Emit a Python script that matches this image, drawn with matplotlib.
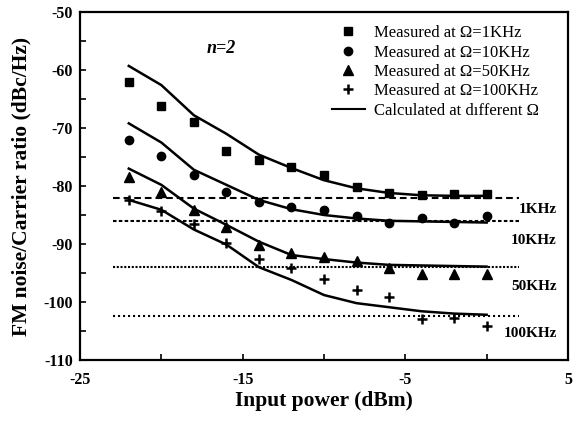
import numpy as np
import matplotlib.pyplot as plt

plt.rcParams['font.family'] = ['Liberation Serif', 'DejaVu Serif']
plt.rcParams['axes.unicode_minus'] = False

# input power (dBm)
power = [-22, -20, -18, -16, -14, -12, -10, -8, -6, -4, -2, 0]

# measured FM noise/carrier ratio (dBc/Hz)
meas_1k = [-62.0, -66.2, -69.0, -74.0, -75.6, -76.7, -78.1, -80.1, -81.2, -81.6, -81.3, -81.4]
meas_10k = [-72.1, -74.8, -78.1, -81.1, -82.8, -83.6, -84.1, -85.1, -86.3, -85.5, -86.3, -85.2]
meas_50k = [-78.5, -81.1, -84.1, -87.1, -90.1, -91.6, -92.2, -92.9, -94.2, -95.1, -95.1, -95.1]
meas_100k = [-82.4, -84.3, -86.6, -89.9, -92.6, -94.1, -96.0, -98.0, -99.1, -102.9, -102.8, -104.1]

# calculated curves
calc_1k = [-59.3, -62.6, -67.8, -71.0, -74.6, -76.9, -79.0, -80.4, -81.2, -81.6, -81.7, -81.7]
calc_10k = [-69.2, -72.5, -77.2, -79.8, -82.4, -84.0, -85.0, -85.6, -86.0, -86.1, -86.2, -86.3]
calc_50k = [-77.0, -79.8, -83.9, -86.7, -89.6, -91.9, -92.6, -93.2, -93.6, -93.7, -93.8, -93.9]
calc_100k = [-82.4, -84.1, -87.5, -90.1, -94.0, -96.2, -98.8, -100.2, -100.9, -101.6, -102.0, -102.2]

# horizontal reference levels
ref_x = [-23, 2]
ref_levels = [-82.1, -86.1, -93.9, -102.4]
ref_names = ['1KHz', '10KHz', '50KHz', '100KHz']
ref_label_y = [-84.0, -89.4, -97.4, -105.5]

fig = plt.figure(figsize=(5.77, 4.21), dpi=100)
ax = fig.add_axes([0.1386, 0.1449, 0.8458, 0.8266])

ref_styles = [(0, (3.2, 1.9)), (0, (1.7, 1.1)), (0, (1, 0.8)), (0, (1, 1.4))]
for lev, ls in zip(ref_levels, ref_styles):
    ax.plot(ref_x, [lev, lev], color='black', lw=1.5, linestyle=ls)

for c in [calc_1k, calc_10k, calc_50k, calc_100k]:
    ax.plot(power, c, color='black', lw=1.8)

ax.plot(power, meas_1k, 's', color='black', ms=5.8, label='Measured at Ω=1KHz')
ax.plot(power, meas_10k, 'o', color='black', ms=6, label='Measured at Ω=10KHz')
ax.plot(power, meas_50k, '^', color='black', ms=6.5, label='Measured at Ω=50KHz')
ax.plot(power, meas_100k, '+', color='black', ms=7.5, mew=1.8, label='Measured at Ω=100KHz')
ax.plot([], [], color='black', lw=1.5, label='Calculated at dıfferent Ω')

for name, y in zip(ref_names, ref_label_y):
    ax.text(4.3, y, name, ha='right', va='center', fontsize=11, fontweight='bold')

ax.text(-16.3, -56.3, 'n=2', ha='center', va='center', fontsize=13,
        fontstyle='italic', fontweight='bold')

leg = ax.legend(loc='upper left', bbox_to_anchor=(0.516, 0.962), frameon=False,
                fontsize=12, handlelength=2.0, handletextpad=0.55,
                labelspacing=0.2, borderpad=0, borderaxespad=0)

ax.set_xlim(-25, 5)
ax.set_ylim(-110, -50)
ax.set_xticks([-25, -15, -5, 5])
ax.set_xticks([-20, -10, 0], minor=True)
ax.set_yticks(np.arange(-110, -49, 10))
ax.set_yticks(np.arange(-105, -50, 10), minor=True)
ax.tick_params(which='both', direction='in', length=4, width=1.2)
ax.tick_params(axis='x', pad=9)
ax.tick_params(axis='y', pad=5)
for lab in ax.get_xticklabels() + ax.get_yticklabels():
    lab.set_fontsize(11.5)
    lab.set_fontweight('bold')
for sp in ax.spines.values():
    sp.set_linewidth(1.6)

ax.set_xlabel('Input power (dBm)', fontsize=15.5, fontweight='bold')
ax.set_ylabel('FM noise/Carrier ratio (dBc/Hz)', fontsize=15.5, fontweight='bold')
ax.xaxis.set_label_coords(0.5, -0.09)
ax.yaxis.set_label_coords(-0.1, 0.5)

fig.savefig('out.png', dpi=100)
